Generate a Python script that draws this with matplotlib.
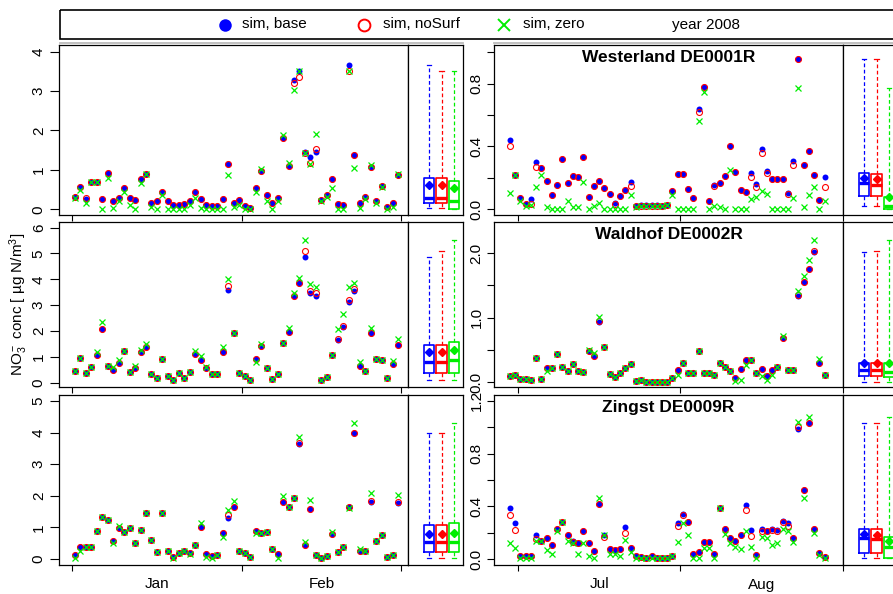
import numpy as np
import matplotlib
matplotlib.use('Agg')
import matplotlib.pyplot as plt
from matplotlib.patches import Rectangle

plt.rcParams['font.family'] = ['Liberation Sans', 'DejaVu Sans']
plt.rcParams['mathtext.fontset'] = 'custom'
plt.rcParams['mathtext.rm'] = 'Liberation Sans'
plt.rcParams['mathtext.it'] = 'Liberation Sans:italic'
plt.rcParams['mathtext.default'] = 'regular'

W, H = 893, 594

# ---- data (daily values, ug N/m3) ----
sites = ["Westerland DE0001R", "Waldhof DE0002R", "Zingst DE0009R"]
series = ["sim, base", "sim, noSurf", "sim, zero"]
colors = ["#0000FF", "#FF0000", "#00EE00"]

jf_days = np.arange(60) + 0.5      # Jan 1 .. Feb 29, days since Jan 1
ja_days = np.arange(61) - 1.5      # Jun 29 .. Aug 28, days since Jul 1

wl_jf_base = [0.31,0.57,0.26,0.68,0.68,0.25,0.93,0.20,0.28,0.55,0.28,0.24,0.76,0.90,0.16,0.20,0.44,0.20,0.10,0.10,
              0.14,0.20,0.45,0.25,0.12,0.08,0.08,0.25,1.15,0.15,0.24,0.08,0.03,0.54,0.98,0.35,0.15,0.28,1.80,1.10,
              3.27,3.50,1.45,1.33,1.45,0.23,0.35,0.78,0.14,0.12,3.67,1.38,0.15,0.30,1.06,0.20,0.60,0.05,0.15,0.87]
wl_jf_nosurf = [0.31,0.57,0.28,0.68,0.68,0.25,0.93,0.20,0.28,0.55,0.28,0.24,0.76,0.90,0.16,0.20,0.44,0.20,0.10,0.10,
                0.14,0.20,0.45,0.25,0.12,0.08,0.08,0.25,1.15,0.15,0.24,0.08,0.03,0.54,0.98,0.35,0.15,0.28,1.82,1.10,
                3.21,3.36,1.42,1.17,1.53,0.23,0.35,0.78,0.14,0.12,3.50,1.38,0.15,0.30,1.08,0.20,0.60,0.05,0.15,0.87]
wl_jf_zero = [0.28,0.50,0.15,0.68,0.68,0.00,0.80,0.02,0.22,0.45,0.12,0.00,0.66,0.90,0.07,0.00,0.36,0.00,0.00,0.00,
              0.00,0.10,0.28,0.03,0.00,0.00,0.00,0.00,0.88,0.07,0.12,0.00,0.00,0.45,1.03,0.22,0.00,0.22,1.88,1.18,
              3.03,3.50,1.42,1.15,1.90,0.20,0.30,0.55,0.00,0.00,3.50,1.05,0.03,0.27,1.13,0.15,0.57,0.00,0.05,0.90]

wl_ja_base = [0.44,0.22,0.07,0.035,0.066,0.30,0.265,0.18,0.09,0.153,0.32,0.17,0.21,0.208,0.333,0.08,0.148,0.18,0.134,0.10,
              0.042,0.087,0.123,0.176,0.023,0.025,0.025,0.025,0.025,0.022,0.03,0.117,0.223,0.223,0.13,0.072,0.636,0.777,0.05,0.155,
              0.166,0.214,0.40,0.24,0.123,0.112,0.233,0.161,0.384,0.244,0.19,0.19,0.19,0.106,0.31,0.955,0.282,0.373,0.218,0.06,
              0.208]
wl_ja_nosurf = [0.40,0.22,0.07,0.035,0.035,0.27,0.265,0.18,0.09,0.153,0.32,0.17,0.21,0.208,0.333,0.08,0.148,0.18,0.134,0.10,
                0.034,0.087,0.123,0.148,0.02,0.02,0.02,0.02,0.02,0.02,0.025,0.117,0.223,0.223,0.13,0.072,0.62,0.777,0.05,0.148,
                0.166,0.214,0.40,0.24,0.123,0.112,0.204,0.144,0.357,0.23,0.19,0.19,0.19,0.098,0.284,0.955,0.282,0.373,0.218,0.06,
                0.144]
wl_ja_zero = [0.106,0.22,0.055,0.02,0.03,0.145,0.22,0.017,0.005,0.005,0.005,0.055,0.017,0.017,0.176,0.005,0.023,0.042,0.005,0.005,
              0.005,0.005,0.005,0.089,0.017,0.02,0.02,0.02,0.02,0.02,0.025,0.09,0.005,0.005,0.005,0.005,0.565,0.745,0.005,0.023,
              0.017,0.005,0.25,0.005,0.005,0.005,0.064,0.08,0.119,0.095,0.005,0.005,0.005,0.005,0.07,0.77,0.017,0.09,0.14,0.005,
              0.05]

wh_jf_base = [0.45,0.97,0.39,0.60,1.07,2.08,0.66,0.50,0.76,1.23,0.41,0.55,1.20,1.39,0.33,0.19,0.92,0.27,0.10,0.36,
              0.19,0.40,1.12,0.89,0.55,0.32,0.32,1.17,3.59,1.91,0.39,0.27,0.10,0.92,1.42,0.55,0.13,0.32,1.52,1.97,
              3.35,3.87,4.88,3.48,3.37,0.10,0.23,1.07,1.65,2.14,3.14,3.55,0.66,0.45,1.91,0.92,0.88,0.19,0.72,1.46]
wh_jf_nosurf = [0.45,0.97,0.39,0.60,1.07,2.08,0.66,0.50,0.76,1.23,0.41,0.55,1.20,1.39,0.33,0.19,0.92,0.27,0.10,0.36,
                0.19,0.40,1.12,0.89,0.55,0.32,0.32,1.17,3.74,1.91,0.39,0.27,0.10,0.92,1.42,0.55,0.13,0.32,1.52,1.97,
                3.35,3.87,5.11,3.55,3.46,0.10,0.23,1.07,1.69,2.21,3.20,3.61,0.66,0.45,1.91,0.92,0.88,0.19,0.72,1.46]
wh_jf_zero = [0.45,0.97,0.39,0.60,1.20,2.36,0.66,0.60,0.88,1.23,0.41,0.65,1.26,1.50,0.33,0.19,0.92,0.27,0.10,0.36,
              0.19,0.40,1.24,1.05,0.62,0.32,0.32,1.39,4.01,1.91,0.39,0.27,0.10,0.81,1.50,0.55,0.13,0.32,1.52,2.10,
              3.48,4.04,5.52,3.82,3.69,0.10,0.23,1.07,2.08,2.65,3.69,3.85,0.81,0.45,2.10,0.92,0.88,0.19,0.85,1.69]

wh_ja_base = [0.10,0.12,0.05,0.05,0.04,0.38,0.05,0.22,0.22,0.44,0.23,0.18,0.29,0.18,0.16,0.49,0.41,0.94,0.54,0.13,
              0.08,0.15,0.22,0.29,0.02,0.04,0.005,0.005,0.005,0.005,0.01,0.06,0.19,0.30,0.15,0.14,0.48,0.15,0.15,0.11,
              0.30,0.24,0.17,0.06,0.20,0.34,0.35,0.14,0.20,0.09,0.19,0.23,0.69,0.19,0.19,1.34,1.55,1.75,2.02,0.30,
              0.11]
wh_ja_nosurf = [0.10,0.12,0.05,0.05,0.04,0.38,0.05,0.22,0.22,0.44,0.23,0.18,0.29,0.18,0.16,0.48,0.41,0.95,0.54,0.13,
                0.08,0.15,0.22,0.29,0.02,0.04,0.005,0.005,0.005,0.005,0.01,0.06,0.19,0.30,0.15,0.14,0.48,0.15,0.15,0.11,
                0.30,0.24,0.17,0.06,0.20,0.34,0.35,0.14,0.20,0.09,0.19,0.23,0.69,0.19,0.19,1.35,1.56,1.76,2.03,0.30,
                0.11]
wh_ja_zero = [0.10,0.12,0.05,0.05,0.04,0.38,0.05,0.17,0.22,0.44,0.23,0.18,0.29,0.18,0.16,0.50,0.45,1.01,0.54,0.13,
              0.08,0.15,0.22,0.29,0.02,0.04,0.005,0.005,0.005,0.005,0.01,0.06,0.11,0.30,0.15,0.14,0.48,0.15,0.15,0.11,
              0.30,0.24,0.17,0.02,0.04,0.27,0.35,0.14,0.10,0.04,0.12,0.23,0.71,0.19,0.19,1.41,1.64,1.90,2.21,0.36,
              0.11]

zi_jf_base = [0.13,0.38,0.37,0.38,0.90,1.32,1.23,0.58,0.99,0.86,0.97,0.50,0.91,1.47,0.59,0.23,1.47,0.25,0.05,0.18,
              0.26,0.20,0.44,1.02,0.16,0.10,0.13,0.81,1.31,1.66,0.25,0.20,0.07,0.89,0.81,0.84,0.32,0.15,1.79,1.66,
              1.94,3.63,0.44,1.58,0.13,0.02,0.09,0.80,0.21,0.39,1.66,4.00,0.26,0.25,1.79,0.58,0.76,0.07,0.13,1.78]
zi_jf_nosurf = [0.13,0.38,0.37,0.38,0.90,1.32,1.23,0.58,0.99,0.86,0.97,0.50,0.91,1.47,0.59,0.23,1.47,0.25,0.05,0.18,
                0.26,0.20,0.44,1.02,0.16,0.10,0.13,0.81,1.39,1.66,0.25,0.20,0.07,0.89,0.81,0.84,0.32,0.15,1.81,1.66,
                1.94,3.66,0.44,1.58,0.13,0.02,0.09,0.80,0.21,0.39,1.66,4.00,0.26,0.25,1.84,0.58,0.76,0.07,0.13,1.80]
zi_jf_zero = [0.04,0.25,0.37,0.38,0.90,1.32,1.23,0.50,1.03,0.86,0.97,0.50,0.91,1.47,0.59,0.23,1.47,0.25,0.04,0.18,
              0.26,0.15,0.44,1.13,0.07,0.04,0.13,0.71,1.55,1.84,0.25,0.20,0.07,0.81,0.81,0.84,0.32,0.04,2.00,1.66,
              1.94,3.85,0.55,1.87,0.13,0.02,0.09,0.86,0.21,0.39,1.60,4.31,0.32,0.25,2.08,0.58,0.76,0.07,0.13,2.03]

zi_ja_base = [0.39,0.27,0.025,0.02,0.02,0.18,0.14,0.16,0.106,0.23,0.28,0.18,0.14,0.12,0.215,0.12,0.063,0.42,0.18,0.076,
              0.066,0.076,0.24,0.08,0.02,0.013,0.01,0.02,0.01,0.01,0.01,0.025,0.27,0.34,0.28,0.04,0.056,0.13,0.13,0.038,
              0.39,0.23,0.16,0.14,0.18,0.41,0.22,0.03,0.225,0.21,0.23,0.22,0.29,0.27,0.16,0.99,0.52,1.035,0.23,0.048,
              0.018]
zi_ja_nosurf = [0.33,0.22,0.025,0.02,0.02,0.15,0.14,0.16,0.106,0.23,0.28,0.18,0.13,0.12,0.215,0.12,0.063,0.42,0.17,0.076,
                0.066,0.076,0.20,0.08,0.02,0.013,0.01,0.02,0.01,0.01,0.01,0.025,0.25,0.33,0.28,0.04,0.056,0.13,0.13,0.038,
                0.39,0.23,0.16,0.14,0.18,0.37,0.175,0.03,0.215,0.21,0.22,0.21,0.28,0.25,0.16,1.00,0.52,1.035,0.23,0.048,
                0.018]
zi_ja_zero = [0.12,0.08,0.005,0.005,0.005,0.14,0.14,0.07,0.04,0.21,0.28,0.14,0.12,0.035,0.12,0.025,0.01,0.46,0.18,0.035,
              0.04,0.025,0.145,0.05,0.005,0.01,0.01,0.01,0.01,0.01,0.01,0.02,0.13,0.27,0.18,0.005,0.01,0.08,0.086,0.005,
              0.39,0.19,0.12,0.094,0.073,0.21,0.09,0.005,0.165,0.157,0.106,0.124,0.23,0.21,0.13,1.04,0.46,1.08,0.20,0.03,
              0.01]

panels = [
    [(wl_jf_base, wl_jf_nosurf, wl_jf_zero), (wl_ja_base, wl_ja_nosurf, wl_ja_zero)],
    [(wh_jf_base, wh_jf_nosurf, wh_jf_zero), (wh_ja_base, wh_ja_nosurf, wh_ja_zero)],
    [(zi_jf_base, zi_jf_nosurf, zi_jf_zero), (zi_ja_base, zi_ja_nosurf, zi_ja_zero)],
]

month_ticks = [[0, 31, 60], [0, 31, 62]]
month_mids = [[15.5, 45.5], [15.5, 46.5]]
month_names = [["Jan", "Feb"], ["Jul", "Aug"]]

yticks = [
    [([0, 1, 2, 3, 4], ["0", "1", "2", "3", "4"]),
     ([0, 0.2, 0.4, 0.6, 0.8, 1.0], ["0.0", "", "0.4", "", "0.8", ""])],
    [([0, 1, 2, 3, 4, 5, 6], ["0", "1", "2", "3", "4", "5", "6"]),
     ([0, 0.5, 1.0, 1.5, 2.0], ["0.0", "", "1.0", "", "2.0"])],
    [([0, 1, 2, 3, 4, 5], ["0", "1", "2", "3", "4", "5"]),
     ([0, 0.2, 0.4, 0.6, 0.8, 1.0, 1.2], ["0.0", "", "0.4", "", "0.8", "", "1.2"])],
]
ylims = [[(-0.145, 4.167), (-0.036, 1.046)],
         [(-0.155, 6.23), (-0.068, 2.486)],
         [(-0.19, 5.19), (-0.046, 1.245)]]

# ---- layout in pixels ----
rows_px = [(45, 215), (221.7, 386.7), (395, 565)]
cols_px = [(59, 408, 463), (494, 843, 898)]
xlims = [(-2.37, 61.3), (-4.52, 60.35)]


def fig_rect(x0, y0, x1, y1):
    return [x0 / W, 1 - y1 / H, (x1 - x0) / W, (y1 - y0) / H]


fig = plt.figure(figsize=(W / 100, H / 100), dpi=100)

for r, (top, bot) in enumerate(rows_px):
    for c, (xl, xm, xr) in enumerate(cols_px):
        base, nosurf, zero = panels[r][c]
        days = jf_days if c == 0 else ja_days
        ax = fig.add_axes(fig_rect(xl, top, xm, bot))
        ax.plot(days, base, 'o', color=colors[0], ms=4.3, mew=0)
        ax.plot(days, nosurf, 'o', mfc='none', mec=colors[1], ms=4.3, mew=0.8)
        ax.plot(days, zero, 'x', color=colors[2], ms=4.5, mew=0.9)
        ax.set_xlim(*xlims[c])
        ax.set_ylim(*ylims[r][c])

        ax.set_xticks(month_ticks[c])
        ax.set_xticklabels([])
        ax.set_xticks(month_mids[c], minor=True)
        if r == 2:
            ax.set_xticklabels(month_names[c], minor=True, fontsize=11)
        else:
            ax.set_xticklabels(["", ""], minor=True)
        ax.tick_params(axis='x', which='major', length=4, width=0.8, direction='out')
        ax.tick_params(axis='x', which='minor', length=0, pad=9)

        yt, yl = yticks[r][c]
        ax.set_yticks(yt)
        ax.set_yticklabels(yl, rotation=90, va='center', fontsize=11)
        if c == 0:
            ax.tick_params(axis='y', length=6.5, width=0.8, pad=3)
        else:
            ax.tick_params(axis='y', length=5, width=0.8, pad=2.5)
        for s in ax.spines.values():
            s.set_linewidth(0.9)

        if c == 1:
            ax.text(0.5, 1 - 12.5 / (bot - top), sites[r], transform=ax.transAxes,
                    ha='center', va='center', fontsize=12.5, fontweight='bold')
        if r == 1 and c == 0:
            ax.set_ylabel("NO$_3^-$ conc [ µg N/m$^3$]", fontsize=11, labelpad=1)

        # box panel
        bx = fig.add_axes(fig_rect(xm, top, xr, bot))
        bp = bx.boxplot([base, nosurf, zero], positions=[1, 2, 3], widths=0.82,
                        whis=(0, 100), showfliers=False, showmeans=True,
                        capwidths=0.35, manage_ticks=False)
        for k, col in enumerate(colors):
            bp['boxes'][k].set(color=col, linewidth=1.2)
            bp['medians'][k].set(color=col, linewidth=2.4)
            for w_ in bp['whiskers'][2 * k:2 * k + 2]:
                w_.set(color=col, linestyle=(0, (3, 2)), linewidth=0.9)
            for cp in bp['caps'][2 * k:2 * k + 2]:
                cp.set(color=col, linewidth=0.9)
            bp['means'][k].set(marker='D', markerfacecolor=col, markeredgecolor=col,
                               markersize=4)
        bx.set_xlim(-0.66, 3.69)
        bx.set_ylim(*ylims[r][c])
        bx.set_xticks([])
        bx.set_yticks([])
        for s in bx.spines.values():
            s.set_linewidth(0.9)

# ---- legend strip on top ----
ov = fig.add_axes([0, 0, 1, 1], zorder=-1)
ov.set_xlim(0, W)
ov.set_ylim(H, 0)
ov.axis('off')
ov.add_patch(Rectangle((60, 10), 860, 29, fill=False, lw=1.2, ec='black'))
ov.plot([60, 463], [43, 43], color='#BBBBBB', lw=1.3)
ov.plot([494, 905], [43, 43], color='#BBBBBB', lw=1.3)
ov.plot([225], [24.5], 'o', color=colors[0], ms=9, mew=0)
ov.plot([364], [24.5], 'o', mfc='none', mec=colors[1], ms=8.5, mew=1.4)
ov.plot([504], [24.5], 'x', color=colors[2], ms=9, mew=1.4)
ov.text(242, 24.5, series[0], fontsize=11, va='center')
ov.text(383, 24.5, series[1], fontsize=11, va='center')
ov.text(523, 24.5, series[2], fontsize=11, va='center')
ov.text(672, 24.5, "year 2008", fontsize=11, va='center')

fig.savefig('out.png', dpi=100)
